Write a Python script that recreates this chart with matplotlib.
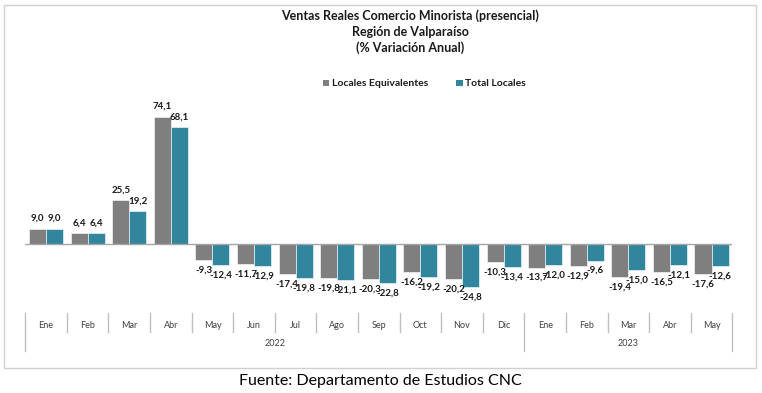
import matplotlib
matplotlib.use("Agg")
import matplotlib.pyplot as plt
from matplotlib.patches import Rectangle

plt.rcParams['font.family'] = ['Lato', 'DejaVu Sans']

# data
months = ["Ene", "Feb", "Mar", "Abr", "May", "Jun", "Jul", "Ago", "Sep", "Oct", "Nov", "Dic",
          "Ene", "Feb", "Mar", "Abr", "May"]
years = ["2022", "2023"]
year_counts = [12, 5]
equivalentes = [9.0, 6.4, 25.5, 74.1, -9.3, -11.7, -17.4, -19.8, -20.3, -16.2, -20.2, -10.3,
                -13.7, -12.9, -19.4, -16.5, -17.6]
totales = [9.0, 6.4, 19.2, 68.1, -12.4, -12.9, -19.8, -21.1, -22.8, -19.2, -24.8, -13.4,
           -12.0, -9.6, -15.0, -12.1, -12.6]

gray = "#7f7f7f"
teal = "#31859c"

fig = plt.figure(figsize=(7.62, 3.93), dpi=100)
W, H = 762, 393

# outer chart border
fig.patches.append(Rectangle((4 / W, 1 - 368 / H), 752 / W, 363 / H, transform=fig.transFigure,
                             facecolor="none", edgecolor="#d0d0d0", linewidth=1.0, zorder=-1))

ax = fig.add_axes([25.3 / W, 1 - 295.6 / H, 707 / W, 189.2 / H])
ax.set_facecolor("none")
n = len(months)
x = list(range(n))
bw = 0.41
xg = [i - bw / 2 for i in x]
xt = [i + bw / 2 for i in x]
ax.bar(xg, equivalentes, bw, color=gray, edgecolor="white", linewidth=0.4, zorder=2)
ax.bar(xt, totales, bw, color=teal, edgecolor="white", linewidth=0.4, zorder=2)
ax.axhline(0, color="#a6a6a6", linewidth=1.0, zorder=3)
ax.set_xlim(-0.5, n - 0.5)
ax.set_ylim(-30, 80)
ax.axis("off")

def fmt(v):
    return ("%.1f" % v).replace(".", ",")

for xs, vals in ((xg, equivalentes), (xt, totales)):
    for xi, v in zip(xs, vals):
        off = 10 if v >= 0 else -10
        ax.annotate(fmt(v), (xi, v), xytext=(0, off), textcoords="offset pixels",
                    ha="center", va="center", fontsize=7, fontweight="bold", color="#1a1a1a")

# multi-level category axis
tr = ax.get_xaxis_transform()
def fy(p):
    return (295.6 - p) / 189.2

for i in range(n + 1):
    bottom = 332
    cum = 0
    for c in [0] + year_counts:
        cum += c
        if i == cum:
            bottom = 351
    ax.plot([i - 0.5, i - 0.5], [fy(313), fy(bottom)], color="#bfbfbf", linewidth=1.0,
            transform=tr, clip_on=False)
for i, m in enumerate(months):
    ax.text(i, fy(326), m, transform=tr, ha="center", va="center", fontsize=6.5, color="#404040")
start = 0
for y, c in zip(years, year_counts):
    ax.text(start + c / 2 - 0.5, fy(343), y, transform=tr, ha="center", va="center",
            fontsize=6.5, color="#404040")
    start += c

# titles
for txt, yy in (("Ventas Reales Comercio Minorista (presencial)", 16),
                ("Región de Valparaíso", 32),
                ("(% Variación Anual)", 48)):
    fig.text(410 / W, 1 - yy / H, txt, ha="center", va="center", fontsize=9,
             fontweight="bold", color="#1a1a1a")

# legend
for (x0, label, col) in ((322.7, "Locales Equivalentes", gray), (456, "Total Locales", teal)):
    fig.patches.append(Rectangle((x0 / W, 1 - 86 / H), 6.5 / W, 6.5 / H,
                                 transform=fig.transFigure, facecolor=col, edgecolor="none"))
    fig.text((x0 + 9) / W, 1 - 83 / H, label, ha="left", va="center", fontsize=7.5,
             fontweight="bold", color="#1a1a1a")

fig.text(380 / W, 1 - 381 / H, "Fuente: Departamento de Estudios CNC", ha="center",
         va="center", fontsize=11.5, color="black")

fig.savefig("out.png", dpi=100)
